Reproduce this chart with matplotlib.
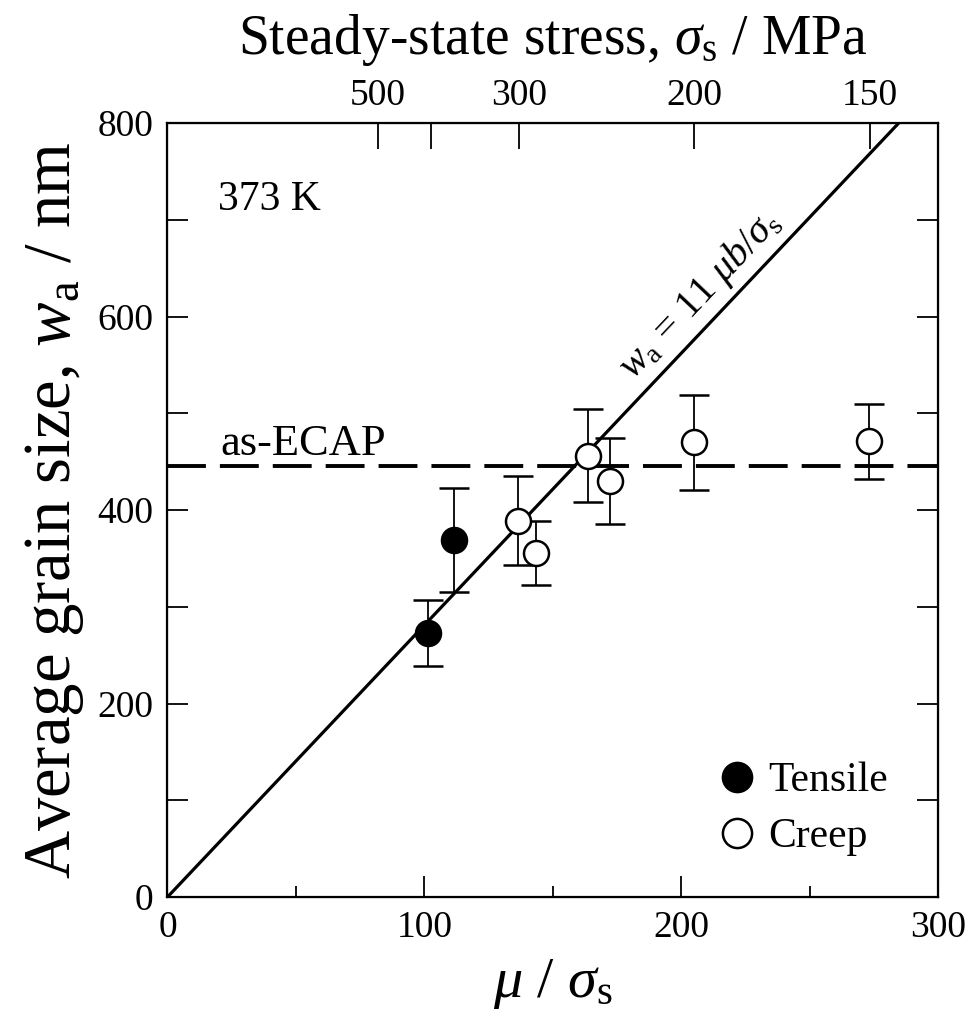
import numpy as np
import matplotlib
matplotlib.use("Agg")
import matplotlib.pyplot as plt
from matplotlib.lines import Line2D

plt.rcParams['font.family'] = ['Liberation Serif', 'DejaVu Serif']
plt.rcParams['mathtext.fontset'] = 'custom'
plt.rcParams['mathtext.rm'] = 'Liberation Serif'
plt.rcParams['mathtext.it'] = 'Liberation Serif:italic'

# ---- data ----
tensile_x = [101.2, 111.5]
tensile_y = [273, 369]
tensile_err = [34, 54]

creep_x = [136.2, 143.3, 163.7, 172.0, 204.7, 273.1]
creep_y = [389, 356, 456, 430, 470, 471]
creep_err = [46, 33, 48, 44, 49, 39]

as_ecap = 445            # nm
shear_modulus = 41000    # MPa
burgers = 0.2556         # nm
k_coef = 11

stress_ticks = [500, 400, 300, 200, 150]
stress_labels = ['500', '', '300', '200', '150']

# ---- figure ----
fig = plt.figure(figsize=(9.71, 10.22), dpi=100)
ax = fig.add_axes([0.1725, 0.1223, 0.794, 0.7573])

xx = np.array([0, 300])
ax.plot(xx, k_coef * burgers * xx, color='black', lw=2.3, zorder=2)
ax.axhline(as_ecap, color='black', lw=2.8, dashes=(10, 3.6), zorder=2)

ax.errorbar(creep_x, creep_y, yerr=creep_err, fmt='o', ms=18, mfc='white',
            mec='black', mew=1.8, ecolor='black', elinewidth=1.3, capsize=11,
            capthick=1.3, zorder=3)
ax.errorbar(tensile_x, tensile_y, yerr=tensile_err, fmt='o', ms=18, mfc='black',
            mec='black', mew=1.8, ecolor='black', elinewidth=1.3, capsize=11,
            capthick=1.3, zorder=3)

ax.set_xlim(0, 300)
ax.set_ylim(0, 800)
ax.set_xticks([0, 100, 200, 300])
ax.set_xticks([50, 150, 250], minor=True)
ax.set_yticks([0, 200, 400, 600, 800])
ax.set_yticks([100, 300, 500, 700], minor=True)
ax.tick_params(axis='both', which='both', direction='in', labelsize=27, width=1.3,
               pad=10)
ax.tick_params(axis='x', which='major', length=15, top=False)
ax.tick_params(axis='x', which='minor', length=8, top=False)
ax.tick_params(axis='y', which='both', length=15, right=True)
for s in ax.spines.values():
    s.set_linewidth(1.6)

ax.set_xlabel(r'$\mu$ / $\sigma_\mathrm{s}$', fontsize=42, labelpad=8)
ax.set_ylabel(r'Average grain size, $w_\mathrm{a}$ / nm', fontsize=48, labelpad=8)

# top axis
ax2 = ax.twiny()
ax2.set_xlim(ax.get_xlim())
ax2.set_xticks([shear_modulus / s for s in stress_ticks])
ax2.set_xticklabels(stress_labels)
ax2.tick_params(axis='x', direction='in', length=19, width=1.3, labelsize=27, pad=7)
ax2.set_xlabel(r'Steady-state stress, $\sigma_\mathrm{s}$ / MPa', fontsize=40, labelpad=18)

# annotations
ax.text(19.6, 710, '373 K', fontsize=30)
ax.text(20.4, 457, 'as-ECAP', fontsize=32)
x0 = 214.7
ax.annotate(r'$w_\mathrm{a}$ = 11 $\mu b$/$\sigma_\mathrm{s}$',
            xy=(x0, k_coef * burgers * x0), xycoords='data',
            xytext=(-13.8, 13.1), textcoords='offset points',
            ha='center', va='center', rotation=46.6, rotation_mode='anchor',
            fontsize=29)

handles = [Line2D([], [], ls='none', marker='o', ms=21, mfc='black', mec='black', mew=1.8),
           Line2D([], [], ls='none', marker='o', ms=21, mfc='white', mec='black', mew=1.8)]
ax.legend(handles, ['Tensile', 'Creep'], loc='upper left', bbox_to_anchor=(0.695, 0.196),
          frameon=False, fontsize=30, handlelength=0.8, handletextpad=0.35,
          labelspacing=0.42, borderaxespad=0)

fig.savefig('out.png', dpi=100)
